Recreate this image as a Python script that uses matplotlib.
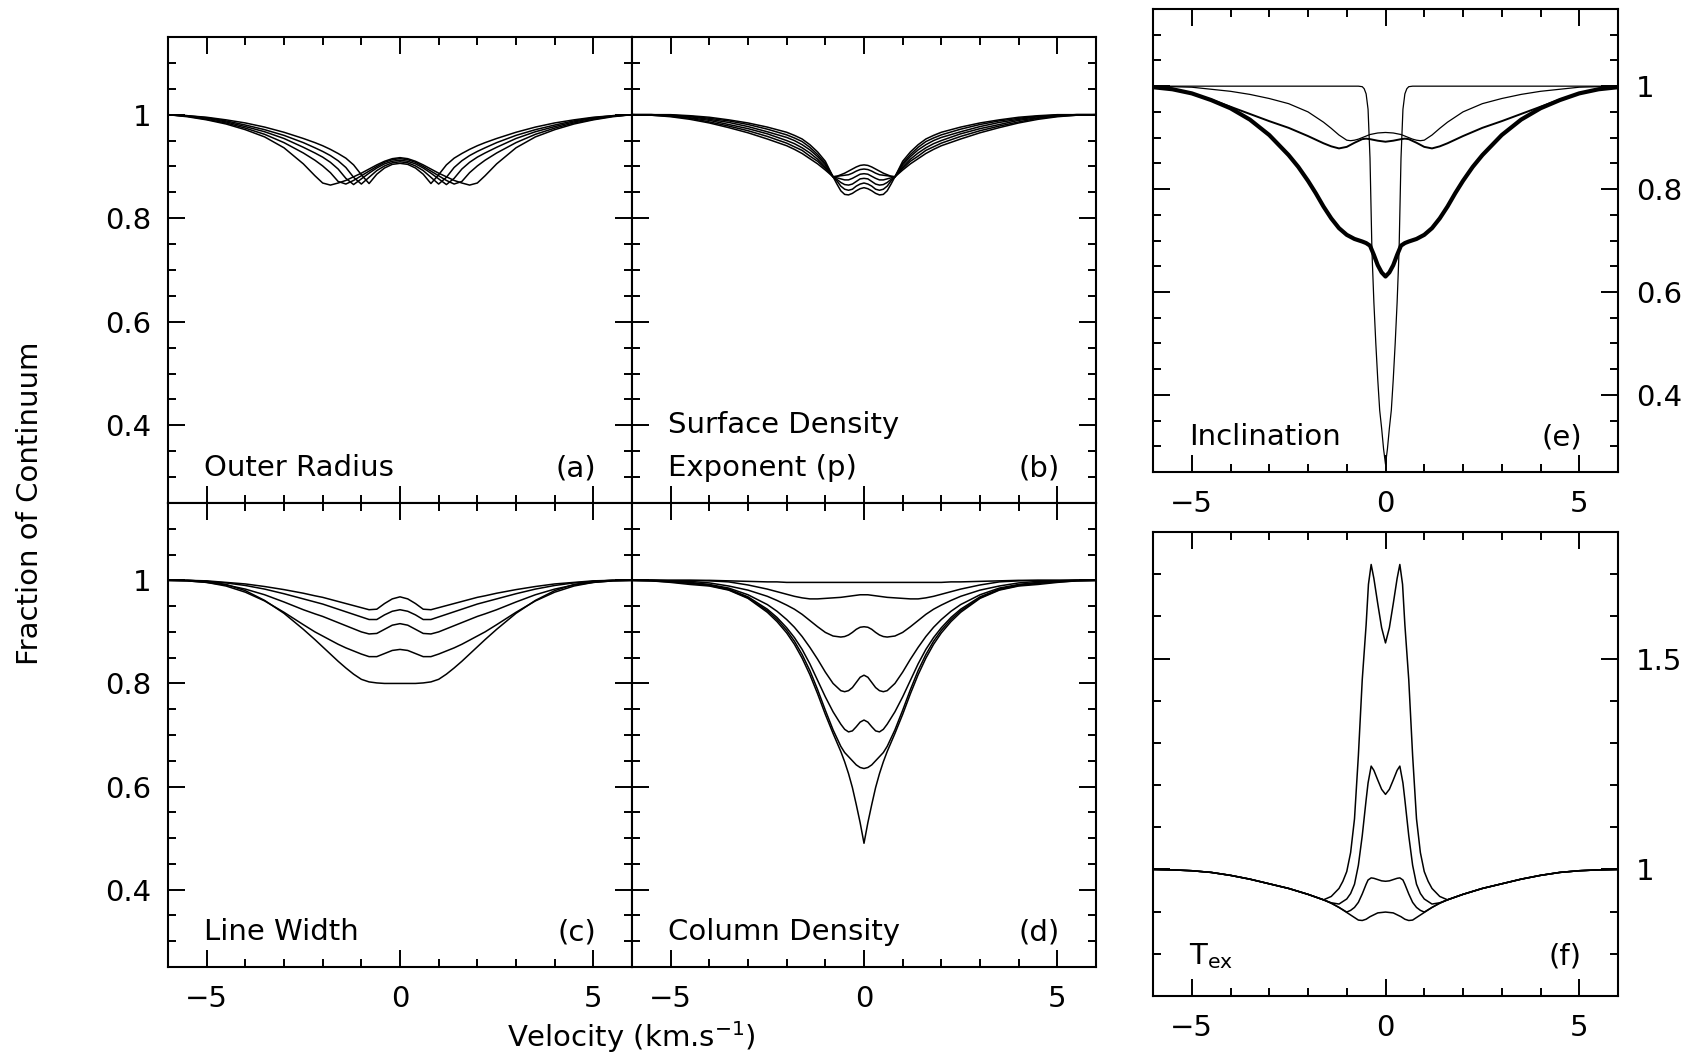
import numpy as np
import matplotlib.pyplot as plt
from matplotlib.ticker import MultipleLocator, FuncFormatter

plt.rcParams['font.family'] = 'DejaVu Sans'
plt.rcParams['font.size'] = 21

# All profiles are symmetric about v = 0, so only the v >= 0 half is stored.

# (a) outer radius
va = [0, 0.2, 0.4, 0.6, 0.8, 1.0, 1.2, 1.4, 1.6, 1.8, 2.0, 2.2, 2.5, 3.0, 3.5, 4.0, 4.5, 5.0, 5.5, 6.0]
a1 = [0.906, 0.904, 0.897, 0.885, 0.867, 0.884, 0.903, 0.916, 0.925, 0.933, 0.940, 0.946, 0.954, 0.966, 0.976, 0.984, 0.990, 0.995, 0.998, 1.0]
a2 = [0.909, 0.907, 0.901, 0.892, 0.879, 0.866, 0.879, 0.898, 0.911, 0.921, 0.929, 0.936, 0.946, 0.960, 0.971, 0.980, 0.988, 0.994, 0.998, 1.0]
a3 = [0.912, 0.910, 0.905, 0.897, 0.887, 0.876, 0.865, 0.877, 0.895, 0.908, 0.918, 0.926, 0.937, 0.954, 0.967, 0.977, 0.986, 0.993, 0.997, 1.0]
a4 = [0.915, 0.913, 0.908, 0.900, 0.891, 0.882, 0.873, 0.866, 0.871, 0.888, 0.901, 0.912, 0.926, 0.946, 0.962, 0.974, 0.984, 0.991, 0.997, 1.0]
a5 = [0.917, 0.915, 0.910, 0.903, 0.895, 0.887, 0.880, 0.873, 0.868, 0.864, 0.868, 0.882, 0.905, 0.936, 0.957, 0.971, 0.982, 0.990, 0.996, 1.0]

# (b) surface density exponent
vb = [0, 0.1, 0.2, 0.3, 0.4, 0.5, 0.6, 0.7, 0.8, 1.0, 1.2, 1.4, 1.6, 1.8, 2.0, 2.5, 3.0, 3.5, 4.0, 4.5, 5.0, 5.5, 6.0]
b1 = [0.903, 0.902, 0.899, 0.895, 0.891, 0.887, 0.884, 0.881, 0.880, 0.893, 0.905, 0.915, 0.925, 0.933, 0.940, 0.953, 0.965, 0.975, 0.984, 0.991, 0.996, 0.999, 1.0]
b2 = [0.895, 0.894, 0.891, 0.887, 0.884, 0.883, 0.882, 0.881, 0.880, 0.896, 0.910, 0.920, 0.931, 0.938, 0.945, 0.958, 0.969, 0.978, 0.986, 0.993, 0.997, 0.999, 1.0]
b3 = [0.886, 0.885, 0.881, 0.877, 0.874, 0.874, 0.876, 0.878, 0.880, 0.899, 0.914, 0.926, 0.936, 0.944, 0.950, 0.963, 0.973, 0.981, 0.989, 0.994, 0.998, 1.0, 1.0]
b4 = [0.877, 0.876, 0.871, 0.866, 0.864, 0.865, 0.869, 0.875, 0.880, 0.903, 0.919, 0.932, 0.942, 0.950, 0.956, 0.967, 0.977, 0.985, 0.991, 0.996, 0.999, 1.0, 1.0]
b5 = [0.868, 0.866, 0.862, 0.856, 0.854, 0.856, 0.862, 0.872, 0.880, 0.906, 0.923, 0.937, 0.948, 0.955, 0.961, 0.972, 0.981, 0.988, 0.993, 0.997, 0.999, 1.0, 1.0]
b6 = [0.859, 0.857, 0.853, 0.848, 0.845, 0.846, 0.853, 0.866, 0.880, 0.910, 0.928, 0.942, 0.953, 0.960, 0.966, 0.976, 0.984, 0.990, 0.995, 0.998, 1.0, 1.0, 1.0]

# (c) line width
vc = va
c1 = [0.968, 0.964, 0.955, 0.944, 0.943, 0.947, 0.951, 0.955, 0.959, 0.963, 0.967, 0.970, 0.975, 0.982, 0.988, 0.993, 0.996, 0.999, 1.0, 1.0]
c2 = [0.943, 0.940, 0.933, 0.924, 0.924, 0.929, 0.934, 0.939, 0.944, 0.949, 0.954, 0.958, 0.964, 0.974, 0.983, 0.990, 0.995, 0.998, 1.0, 1.0]
c3 = [0.916, 0.913, 0.905, 0.897, 0.896, 0.900, 0.906, 0.912, 0.918, 0.924, 0.930, 0.935, 0.943, 0.958, 0.972, 0.983, 0.991, 0.996, 0.999, 1.0]
c4 = [0.866, 0.864, 0.858, 0.852, 0.852, 0.857, 0.863, 0.869, 0.876, 0.884, 0.892, 0.900, 0.914, 0.938, 0.960, 0.977, 0.989, 0.996, 0.999, 1.0]
c5 = [0.800, 0.800, 0.800, 0.801, 0.803, 0.808, 0.818, 0.830, 0.843, 0.857, 0.871, 0.885, 0.905, 0.936, 0.961, 0.980, 0.992, 0.998, 1.0, 1.0]

# (d) column density
vd = [0, 0.1, 0.2, 0.3, 0.4, 0.5, 0.6, 0.8, 1.0, 1.2, 1.4, 1.6, 1.8, 2.0, 2.25, 2.5, 3.0, 3.5, 4.0, 4.5, 5.0, 5.5, 6.0]
d1 = [0.996, 0.996, 0.996, 0.996, 0.996, 0.996, 0.996, 0.996, 0.996, 0.996, 0.996, 0.996, 0.996, 0.996, 0.997, 0.997, 0.998, 0.999, 1.0, 1.0, 1.0, 1.0, 1.0]
d2 = [0.972, 0.972, 0.971, 0.970, 0.969, 0.968, 0.967, 0.966, 0.965, 0.964, 0.964, 0.966, 0.969, 0.973, 0.978, 0.983, 0.991, 0.997, 0.999, 1.0, 1.0, 1.0, 1.0]
d3 = [0.910, 0.909, 0.905, 0.899, 0.894, 0.891, 0.890, 0.892, 0.899, 0.910, 0.922, 0.934, 0.944, 0.952, 0.961, 0.969, 0.981, 0.989, 0.995, 0.998, 0.999, 1.0, 1.0]
d4 = [0.816, 0.812, 0.802, 0.792, 0.786, 0.784, 0.786, 0.800, 0.822, 0.847, 0.870, 0.891, 0.909, 0.924, 0.940, 0.953, 0.972, 0.985, 0.992, 0.996, 0.999, 1.0, 1.0]
d5 = [0.729, 0.725, 0.716, 0.708, 0.706, 0.711, 0.721, 0.745, 0.774, 0.806, 0.838, 0.866, 0.889, 0.908, 0.928, 0.944, 0.968, 0.983, 0.991, 0.995, 0.998, 1.0, 1.0]
d6 = [0.635, 0.637, 0.642, 0.650, 0.658, 0.666, 0.678, 0.710, 0.748, 0.788, 0.825, 0.856, 0.882, 0.903, 0.924, 0.941, 0.966, 0.982, 0.990, 0.994, 0.997, 0.999, 1.0]
d7 = [0.490, 0.530, 0.565, 0.598, 0.625, 0.648, 0.668, 0.703, 0.740, 0.780, 0.817, 0.849, 0.876, 0.898, 0.920, 0.938, 0.965, 0.981, 0.989, 0.992, 0.996, 0.999, 1.0]

# (e) inclination, each curve on its own velocity grid
ve1 = [0, 0.05, 0.1, 0.15, 0.2, 0.25, 0.3, 0.35, 0.4, 0.45, 0.5, 0.55, 0.6, 0.7, 6.0]
e1 = [0.265, 0.295, 0.335, 0.37, 0.43, 0.50, 0.58, 0.68, 0.86, 0.955, 0.985, 0.995, 0.999, 1.0, 1.0]
ve2 = [0, 0.2, 0.4, 0.6, 0.7, 0.8, 0.9, 1.0, 1.2, 1.4, 1.6, 2.0, 2.5, 3.0, 3.5, 4.0, 5.0, 6.0]
e2 = [0.910, 0.909, 0.906, 0.900, 0.897, 0.895, 0.894, 0.895, 0.905, 0.918, 0.930, 0.950, 0.966, 0.976, 0.984, 0.990, 0.998, 1.0]
ve3 = [0, 0.2, 0.4, 0.5, 0.6, 0.8, 1.0, 1.2, 1.4, 1.6, 2.0, 2.5, 3.0, 3.5, 4.0, 4.5, 5.0, 5.5, 6.0]
e3 = [0.892, 0.894, 0.897, 0.898, 0.897, 0.890, 0.882, 0.879, 0.883, 0.889, 0.903, 0.919, 0.932, 0.946, 0.960, 0.974, 0.986, 0.995, 0.999]
ve4 = [0, 0.1, 0.2, 0.3, 0.4, 0.5, 0.6, 0.8, 1.0, 1.2, 1.4, 1.6, 1.8, 2.0, 2.25, 2.5, 3.0, 3.5, 4.0, 4.5, 5.0, 5.5, 6.0]
e4 = [0.630, 0.638, 0.652, 0.672, 0.690, 0.695, 0.698, 0.703, 0.711, 0.724, 0.743, 0.766, 0.792, 0.816, 0.843, 0.866, 0.905, 0.935, 0.957, 0.973, 0.986, 0.994, 0.998]

# (f) excitation temperature: inner parts, then the shared outer wing
vf_wing = [1.6, 2.0, 2.5, 3.0, 3.5, 4.0, 4.5, 5.0, 5.5, 6.0]
f_wing = [0.928, 0.941, 0.955, 0.966, 0.977, 0.986, 0.993, 0.997, 0.999, 1.0]
vf1 = [0, 0.1, 0.2, 0.3, 0.37, 0.44, 0.5, 0.6, 0.7, 0.8, 0.9, 1.0, 1.1, 1.2, 1.4]
f1 = [1.537, 1.573, 1.63, 1.69, 1.723, 1.676, 1.58, 1.45, 1.27, 1.12, 1.04, 0.995, 0.972, 0.955, 0.936]
vf2 = [0, 0.1, 0.2, 0.3, 0.37, 0.45, 0.5, 0.6, 0.7, 0.8, 0.9, 1.0, 1.2, 1.4]
f2 = [1.178, 1.19, 1.212, 1.235, 1.245, 1.205, 1.165, 1.08, 1.01, 0.965, 0.943, 0.930, 0.918, 0.921]
vf3 = [0, 0.1, 0.2, 0.3, 0.37, 0.45, 0.5, 0.6, 0.7, 0.8, 0.9, 1.0, 1.2, 1.4]
f3 = [0.972, 0.973, 0.976, 0.979, 0.980, 0.975, 0.965, 0.942, 0.922, 0.910, 0.903, 0.899, 0.910, 0.920]
vf4 = [0, 0.2, 0.4, 0.5, 0.6, 0.7, 0.8, 1.0, 1.2, 1.4]
f4 = [0.899, 0.897, 0.888, 0.882, 0.879, 0.880, 0.886, 0.898, 0.910, 0.920]


def mirror(v, f):
    v = np.asarray(v, float)
    f = np.asarray(f, float)
    return np.concatenate([-v[:0:-1], v]), np.concatenate([f[:0:-1], f])


def style(ax, ylim, ymaj, ymin):
    ax.set_xlim(-6, 6)
    ax.set_ylim(*ylim)
    ax.xaxis.set_major_locator(MultipleLocator(5))
    ax.xaxis.set_minor_locator(MultipleLocator(1))
    ax.yaxis.set_major_locator(MultipleLocator(ymaj))
    ax.yaxis.set_minor_locator(MultipleLocator(ymin))
    ax.yaxis.set_major_formatter(FuncFormatter(lambda y, p: f"{y:g}"))
    ax.tick_params(which='both', direction='in', top=True, right=True,
                   width=1.4, labelbottom=False, labelleft=False)
    ax.tick_params(which='major', length=12)
    ax.tick_params(which='minor', length=6)
    ax.tick_params(axis='x', pad=13)
    for s in ax.spines.values():
        s.set_linewidth(1.5)


fig = plt.figure(figsize=(16.98, 10.56), dpi=100)
W, H = 1698, 1056


def add(x0, y0, w, h):
    return fig.add_axes([x0 / W, 1 - (y0 + h) / H, w / W, h / H])


ax_a = add(168, 37, 464, 466)
ax_b = add(632, 37, 464, 466)
ax_c = add(168, 503, 464, 464)
ax_d = add(632, 503, 464, 464)
ax_e = add(1153, 9, 465, 463)
ax_f = add(1153, 532, 465, 464)

lw = 1.1
for ax, vv, curves in [(ax_a, va, [a1, a2, a3, a4, a5]),
                       (ax_b, vb, [b1, b2, b3, b4, b5, b6]),
                       (ax_c, vc, [c1, c2, c3, c4, c5]),
                       (ax_d, vd, [d1, d2, d3, d4, d5, d6, d7])]:
    style(ax, (0.25, 1.15), 0.2, 0.05)
    for f in curves:
        x, y = mirror(vv, f)
        ax.plot(x, y, color='k', lw=lw)

style(ax_e, (0.25, 1.15), 0.2, 0.05)
for vv, f, w in [(ve1, e1, 0.9), (ve2, e2, 0.9), (ve3, e3, 1.4), (ve4, e4, 3.0)]:
    x, y = mirror(vv, f)
    ax_e.plot(x, y, color='k', lw=w)

style(ax_f, (0.7, 1.8), 0.5, 0.1)
for vv, f in [(vf1, f1), (vf2, f2), (vf3, f3), (vf4, f4)]:
    x, y = mirror(list(vv) + vf_wing, list(f) + f_wing)
    ax_f.plot(x, y, color='k', lw=lw)

# tick labels
for ax in (ax_a, ax_c):
    ax.tick_params(axis='y', labelleft=True, pad=12)
for ax in (ax_c, ax_d, ax_e, ax_f):
    ax.tick_params(axis='x', labelbottom=True)
for ax in (ax_e, ax_f):
    ax.tick_params(axis='y', labelright=True, pad=13)

# panel captions
tx, rx, ty = 0.077, 0.922, 0.075
ax_a.text(tx, ty, 'Outer Radius', transform=ax_a.transAxes, va='center')
ax_a.text(rx, ty, '(a)', transform=ax_a.transAxes, va='center', ha='right')
ax_b.text(tx, 0.167, 'Surface Density', transform=ax_b.transAxes, va='center')
ax_b.text(tx, ty, 'Exponent (p)', transform=ax_b.transAxes, va='center')
ax_b.text(rx, ty, '(b)', transform=ax_b.transAxes, va='center', ha='right')
ax_c.text(tx, ty, 'Line Width', transform=ax_c.transAxes, va='center')
ax_c.text(rx, ty, '(c)', transform=ax_c.transAxes, va='center', ha='right')
ax_d.text(tx, ty, 'Column Density', transform=ax_d.transAxes, va='center')
ax_d.text(rx, ty, '(d)', transform=ax_d.transAxes, va='center', ha='right')
ax_e.text(tx, ty, 'Inclination', transform=ax_e.transAxes, va='center')
ax_e.text(rx, ty, '(e)', transform=ax_e.transAxes, va='center', ha='right')
ax_f.text(tx, 0.085, r'T$_\mathregular{ex}$', transform=ax_f.transAxes, va='center')
ax_f.text(rx, 0.085, '(f)', transform=ax_f.transAxes, va='center', ha='right')

fig.text(30 / W, 1 - 503 / H, 'Fraction of Continuum', rotation=90,
         ha='center', va='center')
fig.text(631 / W, 1 - 1037 / H, r'Velocity (km.s$^{\mathregular{-1}}$)',
         ha='center', va='center')

fig.savefig('out.png', dpi=100)
